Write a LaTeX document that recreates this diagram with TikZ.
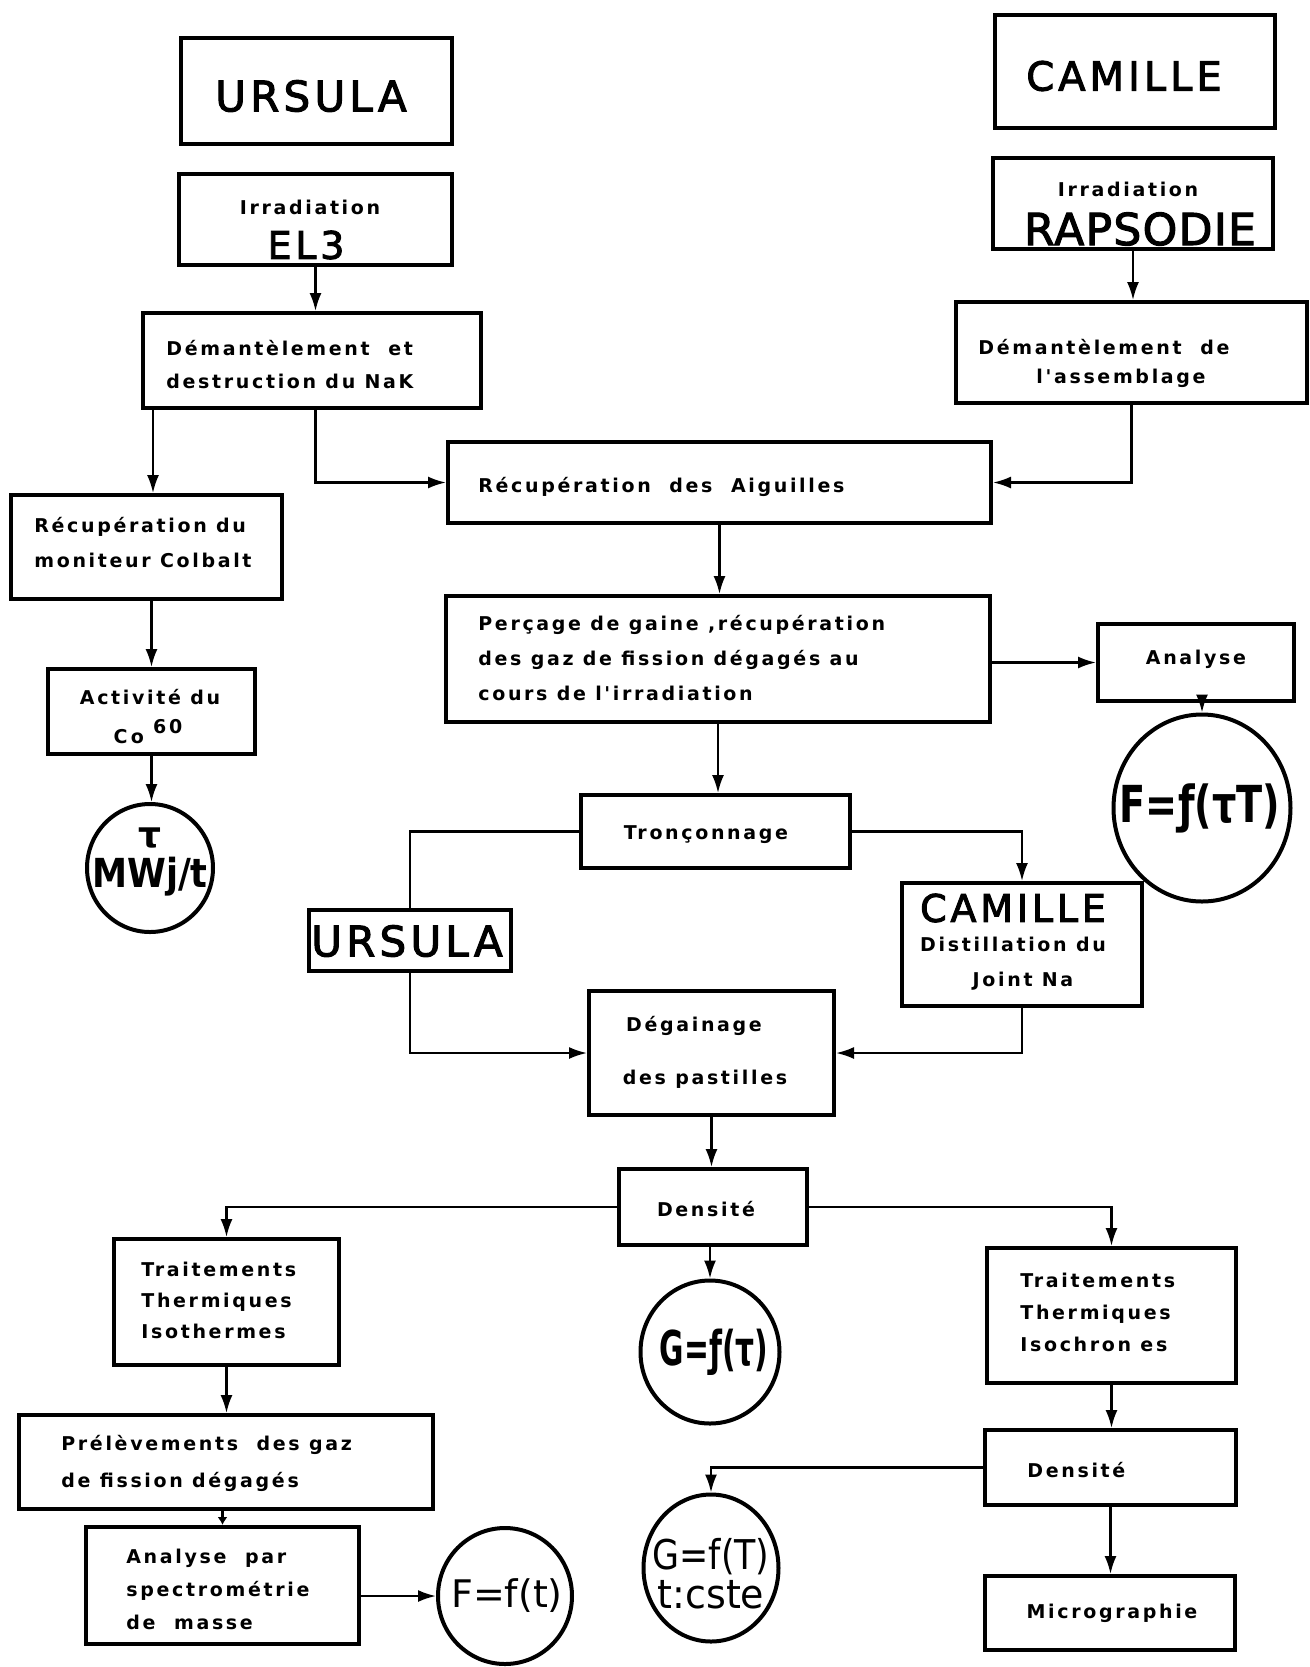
\documentclass[tikz,border=0pt]{standalone}
\usepackage{fontspec}
\usepackage{graphicx}
\setmainfont{DejaVu Sans}
\newfontfamily\lblf{DejaVu Sans}[LetterSpace=14]
\newfontfamily\ttlf{DejaVu Sans}[LetterSpace=10, FakeBold=2.5]
\newfontfamily\ttlg{DejaVu Sans}[LetterSpace=3, FakeBold=2.5]
\newfontfamily\eqf{DejaVu Sans}
\usetikzlibrary{arrows.meta,shapes.geometric,calc}
\newcommand\mybox[5]{\node[box, minimum width={(#4-#2)*0.5pt}, minimum height={(#5-#3)*0.5pt}] (#1) at ({(#2+#4)/2},{(#3+#5)/2}) {};}
\newcommand\myell[5]{\node[ring, minimum width={#4*0.5pt}, minimum height={#5*0.5pt}] (#1) at (#2,#3) {};}
\begin{document}
\begin{tikzpicture}[x=0.5pt,y=-0.5pt,
  box/.style={draw, line width=2pt, rectangle, inner sep=0pt},
  ring/.style={draw, line width=2pt, ellipse, inner sep=0pt},
  lbl/.style={font=\lblf\bfseries\fontsize{9.5}{#1}\selectfont, inner sep=0pt, align=left},
  lbl/.default=17,
  ttl/.style={font=\ttlf\fontsize{#1}{#1}\selectfont, inner sep=0pt},
  eq/.style={font=\eqf\fontsize{#1}{#1}\selectfont, inner sep=0pt},
  beq/.style={font=\eqf\bfseries\fontsize{#1}{#1}\selectfont, inner sep=0pt},
  arr/.style={line width=1.1pt, -{Latex[length=9pt,width=6pt]}},
  sarr/.style={line width=1.1pt, -{Latex[length=4pt,width=5pt]}},
  ln/.style={line width=1.1pt}]
\useasboundingbox (0,0) rectangle (1310,1667);
% boxes
\mybox{ursA}{181}{38}{452}{144}
\mybox{el3}{179}{174}{452}{265}
\mybox{demA}{143}{313}{481}{408}
\mybox{recA}{11}{495}{282}{599}
\mybox{act}{48}{669}{255}{754}
\myell{tauE}{150}{868}{126}{128}
\mybox{cam}{995}{15}{1275}{128}
\mybox{rap}{993}{158}{1273}{249}
\mybox{demB}{956}{302}{1307}{403}
\mybox{aig}{448}{442}{991}{523}
\mybox{perc}{446}{596}{990}{722}
\mybox{anl}{1098}{624}{1294}{701}
\myell{ftt}{1202}{808}{177}{187}
\mybox{tron}{581}{795}{850}{868}
\mybox{ursB}{309}{910}{511}{971}
\mybox{camB}{902}{883}{1142}{1006}
\mybox{deg}{589}{991}{834}{1115}
\mybox{densA}{619}{1169}{807}{1245}
\myell{gtau}{710}{1352}{139}{143}
\mybox{isoA}{114}{1239}{339}{1365}
\mybox{isoB}{987}{1248}{1236}{1383}
\mybox{prel}{19}{1415}{433}{1509}
\mybox{anlB}{86}{1527}{359}{1644}
\myell{ft}{505}{1596}{134}{136}
\mybox{densB}{985}{1430}{1236}{1505}
\myell{gT}{711}{1568}{135}{147}
\mybox{micro}{985}{1576}{1235}{1650}
% texts
\node[ttl=21] (tUrsA) at (311,96) {URSULA};
\node[lbl] (tEl3a) at (310,207) {Irradiation};
\node[ttl=19] (tEl3b) at (306,245) {EL3};
\node[lbl=16.5, anchor=west] (tDemA) at (166,364.5) {Démantèlement\ \ et\\destruction du NaK};
\node[lbl=17.5, anchor=west] (tRecA) at (34,542.5) {Récupération du\\moniteur Colbalt};
\node[lbl] (tActA) at (150,697) {Activité du};
\node[lbl] (tActB) at (148,732) {C\,o\ \raisebox{5pt}{60}};
\node[beq=18] (tTau) at (150,838) {τ};
\node[beq=20] (tMW) at (150,877) {\scalebox{0.88}[1]{MWj/t}};
\node[ttl=20] (tCam) at (1124,76) {CAMILLE};
\node[lbl] (tRapA) at (1128,189) {Irradiation};
\node[font=\ttlg\fontsize{22}{22}\selectfont, inner sep=0pt] (tRapB) at (1140,229) {RAPSODIE};
\node[lbl, anchor=west] (tDemB1) at (978,347) {Démantèlement\ \ de};
\node[lbl] (tDemB2) at (1121,378) {l'assemblage};
\node[lbl, anchor=west] (tAig) at (478,487) {Récupération\ \ des\ \ Aiguilles};
\node[lbl=17.5, anchor=west] (tPerc) at (478,658) {Perçage de gaine ,récupération\\des gaz de fission dégagés au\\cours de l'irradiation};
\node[lbl] (tAnl) at (1196,659) {Analyse};
\node[beq=25.5] (tFtt) at (1200,808) {\scalebox{0.75}[1]{F=ƒ(τT)}};
\node[lbl] (tTron) at (706,835) {Tronçonnage};
\node[ttl=21] (tUrsB) at (407,941) {URSULA};
\node[ttl=19] (tCamB) at (1013,908) {CAMILLE};
\node[lbl] (tCamB2) at (1013,944) {Distillation du};
\node[lbl] (tCamB3) at (1023,981) {Joint Na};
\node[lbl] (tDeg1) at (694,1026) {Dégainage};
\node[lbl] (tDeg2) at (705,1079) {des pastilles};
\node[lbl] (tDensA) at (706,1209) {Densité};
\node[beq=24] (tGtau) at (714,1352) {\scalebox{0.62}[1]{G=ƒ(τ)}};
\node[lbl=15.5, anchor=west] (tIsoA) at (141,1300) {Traitements\\Thermiques\\Isothermes};
\node[lbl=16, anchor=west] (tIsoB) at (1020,1312) {Traitements\\Thermiques\\Isochron es};
\node[lbl=18.5, anchor=west] (tPrel) at (61,1463.5) {Prélèvements\ \ des gaz\\de fission dégagés};
\node[lbl=16.5, anchor=west] (tAnlB) at (126,1589) {Analyse\ \ par\\spectrométrie\\de\ \ masse};
\node[eq=19] (tFt) at (507,1596) {F=f(t)};
\node[lbl, anchor=west] (tDensB) at (1027,1470) {Densité};
\node[eq=20.5] (tGT1) at (711,1557) {\scalebox{0.85}[1]{G=f(T)}};
\node[eq=20] (tGT2) at (711,1595) {\scalebox{0.95}[1]{t:cste}};
\node[lbl] (tMicro) at (1112,1613) {Micrographie};
% connectors
\draw[arr] (el3.south) -- (el3.south |- demA.north);
\draw[arr] ([xshift=6pt]demA.south west) -- ([xshift=6pt]demA.south west |- recA.north);
\draw[arr] (demA.south -| el3.south) |- (aig.west);
\draw[arr] (rap.south) -- (rap.south |- demB.north);
\draw[arr] (demB.south) |- (aig.east);
\draw[arr] (act.north |- recA.south) -- (act.north);
\draw[arr] (act.south) -- (act.south |- tauE.north);
\draw[arr] (aig.south) -- (aig.south |- perc.north);
\draw[arr] (perc.east |- anl.west) -- (anl.west);
\draw[arr] (anl.south -| ftt.north) -- (ftt.north);
\draw[arr] (perc.south) -- (perc.south |- tron.north);
\draw[ln] (tron.west) -| (ursB.north);
\draw[arr] (tron.east) -| (camB.north);
\draw[arr] (ursB.south) |- (deg.west);
\draw[arr] (camB.south) |- (deg.east);
\draw[arr] (deg.south) -- (deg.south |- densA.north);
\draw[arr] (densA.west) -| (isoA.north);
\draw[arr] (densA.east) -| (isoB.north);
\draw[arr] (densA.south -| gtau.north) -- (gtau.north);
\draw[arr] (isoA.south) -- (isoA.south |- prel.north);
\draw[sarr] (prel.south -| anlB.north) -- (anlB.north);
\draw[arr] (anlB.east |- ft.west) -- (ft.west);
\draw[arr] (isoB.south) -- (isoB.south |- densB.north);
\draw[arr] (densB.west) -| (gT.north);
\draw[arr] (densB.south) -- (densB.south |- micro.north);
\end{tikzpicture}
\end{document}
